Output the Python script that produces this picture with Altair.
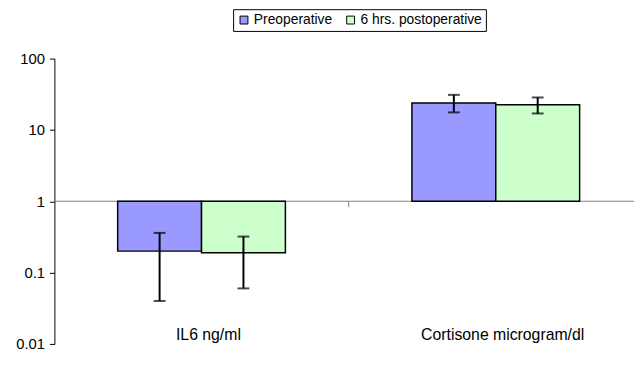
import altair as alt
import pandas as pd

categories = ["IL6 ng/ml", "Cortisone microgram/dl"]
series = ["Preoperative", "6 hrs. postoperative"]
colors = ["#9999FF", "#CCFFCC"]
pre_vals = [0.2, 23.9]
post_vals = [0.19, 22.5]
pre_lo = [0.04, 17.6]
pre_hi = [0.36, 31.0]
post_lo = [0.06, 17.0]
post_hi = [0.32, 28.5]
y_ticks = [0.01, 0.1, 1, 10, 100]

rows = []
for i, c in enumerate(categories):
    rows.append({"cat": c, "series": series[0], "value": pre_vals[i], "lo": pre_lo[i], "hi": pre_hi[i], "base": 1})
    rows.append({"cat": c, "series": series[1], "value": post_vals[i], "lo": post_lo[i], "hi": post_hi[i], "base": 1})
df = pd.DataFrame(rows)
base_df = pd.DataFrame({"v": [1]})

FONT = "Liberation Sans"
W, H = 596, 289

x_enc = alt.X("cat:N", sort=categories, title=None,
              scale=alt.Scale(paddingInner=0.43, paddingOuter=0.215),
              axis=alt.Axis(domain=False, ticks=False, labelAngle=0, labelFontSize=16,
                            labelFont=FONT, labelColor="black", offset=-19, labelPadding=2,
                            labelOffset=7))
xo_enc = alt.XOffset("series:N", sort=series, scale=alt.Scale(domain=series, paddingInner=0, paddingOuter=0))
y_scale = alt.Scale(type="log", domain=[0.01, 100], nice=False)

line = alt.Chart(base_df).mark_rule(color="#808080", strokeWidth=1).encode(
    y=alt.Y("v:Q", scale=y_scale)
)
sep = alt.Chart(base_df).mark_rule(color="#808080", strokeWidth=1).encode(
    x=alt.value(W / 2), y=alt.Y("v:Q", scale=y_scale), y2=alt.value(H / 2 + 6)
)

bars = alt.Chart(df).mark_bar(stroke="black", strokeWidth=1.5).encode(
    x=x_enc,
    xOffset=xo_enc,
    y=alt.Y("value:Q", scale=y_scale, title=None,
            axis=alt.Axis(values=y_ticks, format="~g", grid=False, domainColor="black",
                          tickColor="black", tickSize=5, labelPadding=5, labelFontSize=15,
                          labelFont=FONT, labelColor="black")),
    y2="base:Q",
    color=alt.Color("series:N", sort=series,
                    scale=alt.Scale(domain=series, range=colors),
                    legend=alt.Legend(title=None, orient="none", direction="horizontal",
                                      legendX=181, legendY=-50, strokeColor="black",
                                      fillColor="white", padding=4, symbolType="square",
                                      symbolSize=64, symbolStrokeColor="black",
                                      symbolStrokeWidth=1, labelFontSize=14, labelFont=FONT,
                                      labelColor="black", labelOffset=3, columnPadding=11,
                                      symbolOpacity=1)),
)

err = alt.Chart(df).mark_rule(color="black", strokeWidth=2).encode(
    x=alt.X("cat:N", sort=categories), xOffset=xo_enc,
    y=alt.Y("lo:Q", scale=y_scale), y2="hi:Q"
)
cap_lo = alt.Chart(df).mark_tick(color="black", orient="horizontal", size=12, thickness=2).encode(
    x=alt.X("cat:N", sort=categories), xOffset=xo_enc, y=alt.Y("lo:Q", scale=y_scale)
)
cap_hi = alt.Chart(df).mark_tick(color="black", orient="horizontal", size=12, thickness=2).encode(
    x=alt.X("cat:N", sort=categories), xOffset=xo_enc, y=alt.Y("hi:Q", scale=y_scale)
)

chart = alt.layer(line, sep, bars, err, cap_lo, cap_hi).properties(
    width=W, height=H,
    autosize=alt.AutoSizeParams(type="none"),
    padding={"left": 47, "top": 49, "right": -9, "bottom": 10},
).configure_view(stroke=None)

chart.save("out.html", embed_options={"renderer": "svg", "actions": False})
